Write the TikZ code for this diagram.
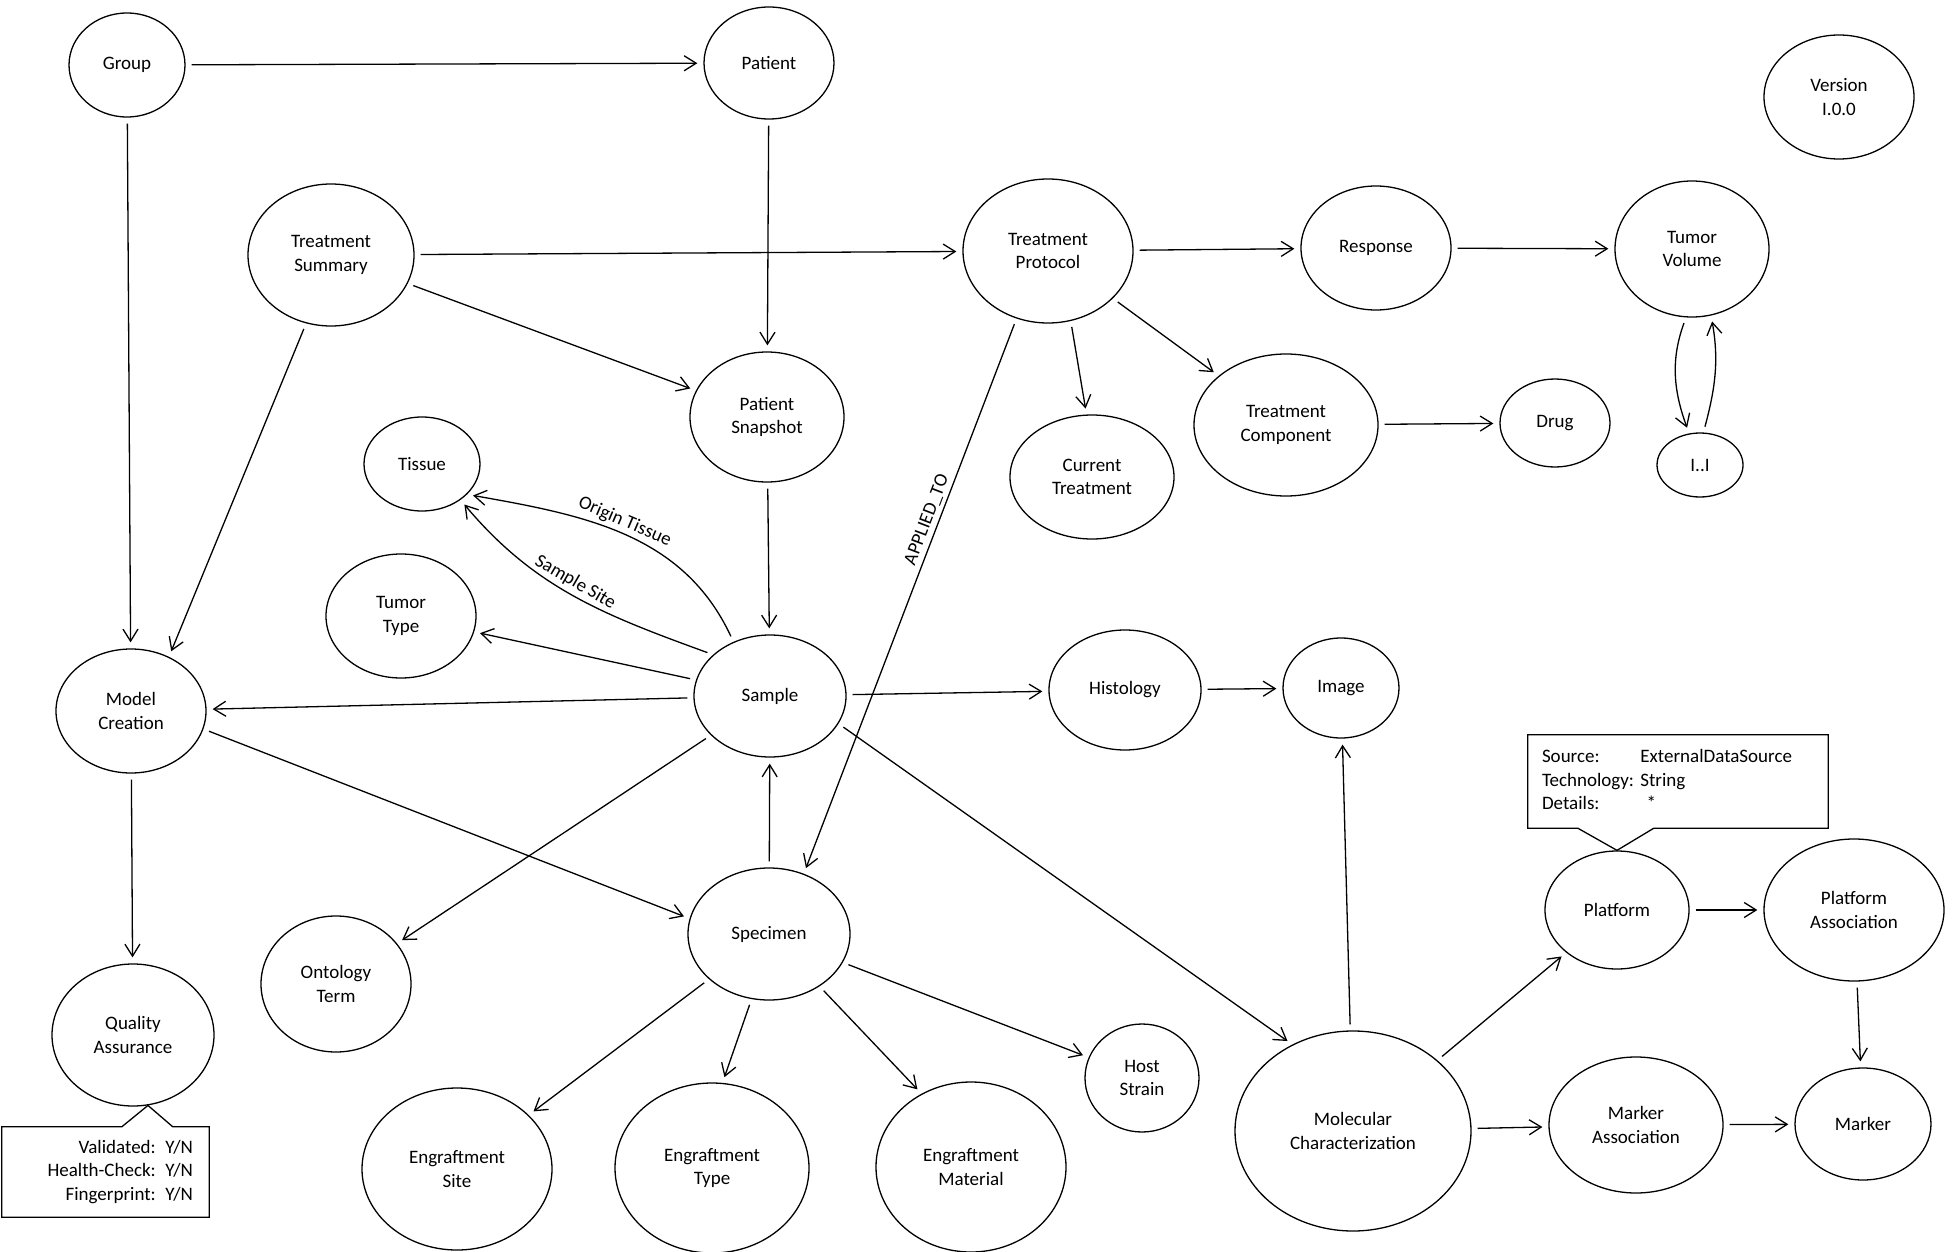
\documentclass[tikz,border=0pt]{standalone}
\usepackage{fontspec}
\setmainfont{Carlito}
\usetikzlibrary{arrows.meta,shapes.geometric,calc}

\begin{document}
\begin{tikzpicture}[x=1pt, y=-1pt, font=\fontsize{19}{23.5}\selectfont,
  ent/.style={ellipse, draw, line width=1.3pt, align=center, inner sep=0pt},
  rel/.style={-{Straight Barb[length=12pt,width=15pt]}, line width=1.3pt, shorten <=6pt, shorten >=6pt}]
  \useasboundingbox (0,0) rectangle (1952,1252);
  \foreach \n/\x/\y/\w/\h/\t in {grp/127/65/116/104/Group, pat/769/63/130/112/Patient,
    ver/1839/97/150/124/Version\\I.0.0, tsum/331/255/166/142/Treatment\\Summary,
    tprot/1048/251/170/144/Treatment\\Protocol, resp/1376/248/150/124/Response,
    tvol/1692/249/154/136/Tumor\\Volume, psnap/767/417/154/130/Patient\\Snapshot,
    tis/422/464/116/94/Tissue, ctreat/1092/477/164/124/Current\\Treatment,
    tcomp/1286/425/184/142/Treatment\\Component, drug/1555/423/110/88/Drug,
    one/1700/465/86/64/I..I, ttype/401/616/150/124/Tumor\\Type,
    smp/770/696/152/122/Sample, mcre/131/711/150/124/Model\\Creation,
    hist/1125/690/152/120/Histology, img/1341/688/116/100/Image,
    plat/1617/910/144/118/Platform, passoc/1854/910/180/142/Platform\\Association,
    spec/769/934/162/132/Specimen, onto/336/984/150/136/Ontology\\Term,
    qa/133/1035/162/142/Quality\\Assurance, host/1142/1078/114/108/Host\\Strain,
    molc/1353/1131/236/200/Molecular\\Characterization, massoc/1636/1125/174/136/Marker\\Association,
    mark/1863/1124/136/112/Marker, esite/457/1169/190/162/Engraftment\\Site,
    etype/712/1168/194/170/Engraftment\\Type, emat/971/1167/190/170/Engraftment\\Material}
    \node[ent, minimum width=\w pt, minimum height=\h pt] (\n) at (\x,\y) {\t};

  \foreach \a/\b in {grp/pat, grp/mcre, pat/psnap, tsum/tprot, tsum/psnap, tsum.-110/mcre.55,
    tprot/resp, resp/tvol, tprot.-72/ctreat.95, tprot/tcomp, tcomp/drug, psnap/smp,
    smp/ttype, smp/mcre, smp/hist, hist/img, smp/onto, smp.-22/molc.125, spec/smp,
    mcre.-14/spec.169, mcre/qa, spec/esite, spec.-105/etype.83, spec.-46/emat.124,
    spec/host, molc/img, molc/plat, molc/massoc, plat/passoc, passoc/mark, massoc/mark}
    \draw[rel] (\a) -- (\b);

  \draw[rel] (tprot.245) -- node[sloped, above, pos=0.37] {APPLIED\_TO} (spec.60);
  \draw[rel] (smp.124) to[out=115, in=-10] node[sloped, above, pos=0.52] {Origin Tissue} (tis.-34);
  \draw[rel] (smp.144) to[out=160, in=-50] node[sloped, above, pos=0.52] {Sample Site} (tis.-43);
  \draw[rel] (tvol.-95) to[out=-110, in=110] (one.109);
  \draw[rel] (one.84) to[out=75, in=-80] (tvol.-74);

  \node[text width=272pt, inner xsep=14pt, inner ysep=0pt, minimum height=93pt, align=left] (pnote) at (1678,781.5)
    {\begin{tabular}{@{}l@{\ }l@{}}Source: & ExternalDataSource\\ Technology: & String\\ Details: & \ *\end{tabular}};
  \draw[line width=1.3pt] (pnote.south west) -- (pnote.north west) -- (pnote.north east) -- (pnote.south east)
    -- ($(pnote.south west)+(126,0)$) -- (plat.north) -- ($(pnote.south west)+(50,0)$) -- cycle;

  \node[text width=175pt, inner xsep=16pt, inner ysep=0pt, minimum height=90pt, align=right] (qnote) at (105.5,1172)
    {Validated: Y/N\\Health-Check: Y/N\\Fingerprint: Y/N};
  \draw[line width=1.3pt] (qnote.north west) -- ($(qnote.north west)+(120,0)$) -- (qa.-78)
    -- ($(qnote.north west)+(171,0)$) -- (qnote.north east) -- (qnote.south east) -- (qnote.south west) -- cycle;
\end{tikzpicture}
\end{document}
